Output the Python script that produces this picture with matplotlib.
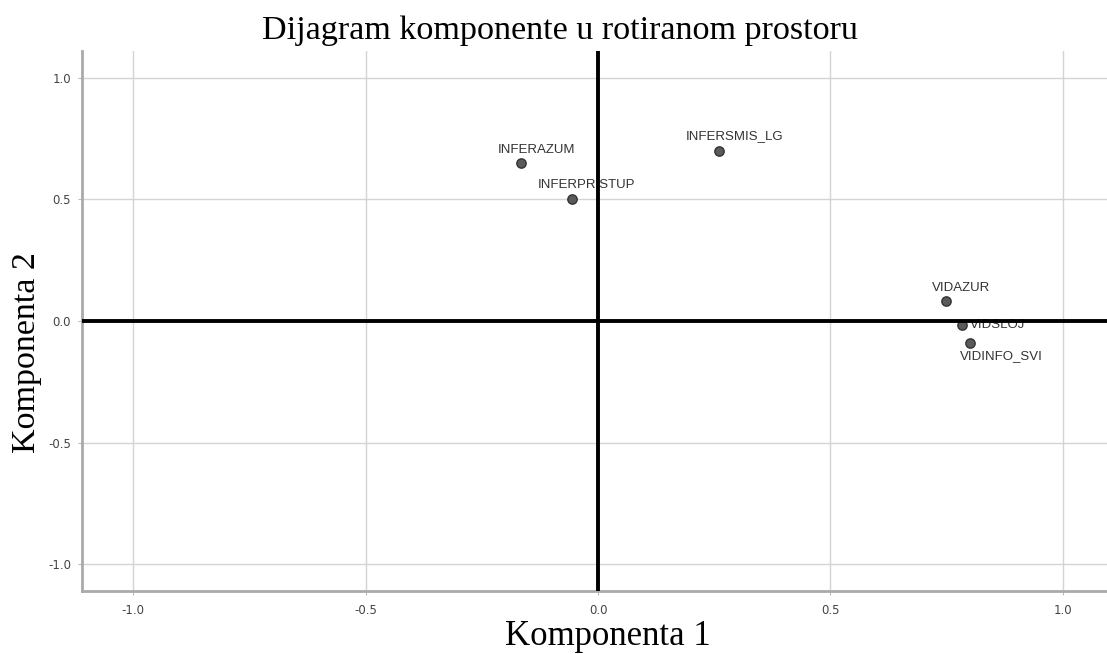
import matplotlib
matplotlib.use("Agg")
import matplotlib.pyplot as plt

labels = ["INFERAZUM", "INFERPRISTUP", "INFERSMIS_LG", "VIDAZUR", "VIDSLOJ", "VIDINFO_SVI"]
comp1 = [-0.166, -0.056, 0.26, 0.748, 0.783, 0.80]
comp2 = [0.65, 0.50, 0.70, 0.082, -0.016, -0.09]
ticks = [-1.0, -0.5, 0.0, 0.5, 1.0]
tick_labels = ["-1.0", "-0.5", "0.0", "0.5", "1.0"]

fig = plt.figure(figsize=(11.07, 6.54), dpi=100)
ax = fig.add_axes([0.0741, 0.0963, 0.9259, 0.8257])
ax.set_xlim(-1.11, 1.095)
ax.set_ylim(-1.11, 1.11)

ax.set_xticks(ticks)
ax.set_xticklabels(tick_labels)
ax.set_yticks(ticks)
ax.set_yticklabels(tick_labels)
ax.grid(True, color="#d4d4d4", linewidth=1.0)
ax.set_axisbelow(True)
ax.tick_params(axis="both", labelsize=8.5, colors="#444444", length=3, width=0.8)
ax.tick_params(axis="both", color="#bbbbbb")
ax.tick_params(axis="x", pad=6)
ax.tick_params(axis="y", pad=5)
for s in ["top", "right"]:
    ax.spines[s].set_visible(False)
for s in ["left", "bottom"]:
    ax.spines[s].set_color("#aaaaaa")
    ax.spines[s].set_linewidth(2)

ax.axhline(0, color="black", linewidth=2.8, zorder=5)
ax.axvline(0, color="black", linewidth=2.8, zorder=5)

ax.scatter(comp1, comp2, s=45, color="#5a5a5a", edgecolors="#333333", linewidths=1.0, zorder=3)

offsets = {
    "INFERAZUM": (16, 10, "center", "baseline"),
    "INFERPRISTUP": (15, 11, "center", "baseline"),
    "INFERSMIS_LG": (16, 12, "center", "baseline"),
    "VIDAZUR": (15, 10, "center", "baseline"),
    "VIDSLOJ": (8, 0, "left", "center"),
    "VIDINFO_SVI": (32, -7, "center", "top"),
}
for lab, x, y in zip(labels, comp1, comp2):
    dx, dy, ha, va = offsets[lab]
    ax.annotate(lab, (x, y), xytext=(dx * 0.72, dy * 0.72), textcoords="offset points",
                ha=ha, va=va, fontsize=9.5, color="#333333", family="Liberation Sans", zorder=4)

fig.text(0.506, 0.953, "Dijagram komponente u rotiranom prostoru", ha="center", va="center",
         fontsize=24.6, family="Liberation Serif", color="black")
fig.text(0.549, 0.027, "Komponenta 1", ha="center", va="center",
         fontsize=25, family="Liberation Serif", color="black")
fig.text(0.024, 0.461, "Komponenta 2", ha="center", va="center", rotation=90,
         fontsize=24.5, family="Liberation Serif", color="black")

fig.savefig("out.png", dpi=100)
